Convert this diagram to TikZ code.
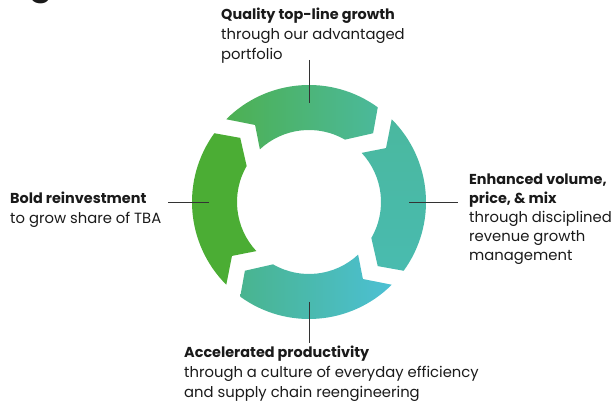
\documentclass[tikz,border=0pt]{standalone}
\usepackage{fontspec}
\setmainfont{Poppins}
\definecolor{gA}{HTML}{4BAD34}
\definecolor{gB}{HTML}{4DB052}
\definecolor{gC}{HTML}{4BB99B}
\definecolor{gD}{HTML}{4AB89F}
\definecolor{gE}{HTML}{49BBAF}
\definecolor{gF}{HTML}{49B48F}
\definecolor{gG}{HTML}{4CC0D4}
\definecolor{txt}{HTML}{1A1A1A}
\definecolor{ln}{HTML}{333333}
\begin{document}
\begin{tikzpicture}[x=1pt,y=1pt,
  head/.style={font=\fontsize{14.4}{16}\bfseries, text=txt, anchor=base west, inner sep=0pt},
  body/.style={font=\fontsize{14.8}{16}\selectfont, text=txt, anchor=base west, inner sep=0pt},
  leader/.style={draw=ln, line width=0.9pt}]
\useasboundingbox (0,0) rectangle (614,409);
\coordinate (C) at (309,207);
\def\Ro{117}\def\Rm{94}\def\Ri{72}
\newcommand\ringseg[1]{(135+#1:\Ro) arc[start angle=135+#1, end angle=54+#1, radius=\Ro] -- (47+#1:\Rm) -- (60+#1:\Ri) arc[start angle=60+#1, end angle=133+#1, radius=\Ri] -- (125+#1:\Rm) -- cycle}
\begin{scope}[shift={(C)}]
  \fill[gA] \ringseg{90};
  \shade[left color=gB, right color=gC] \ringseg{0};
  \shade[top color=gD, bottom color=gE] \ringseg{-90};
  \shade[left color=gF, right color=gG] \ringseg{-180};
\end{scope}
% partial title letter
\node[font=\fontsize{34}{36}\bfseries, text=txt, anchor=base west, inner sep=0pt] (title) at (29,414.5) {g};
% top
\node[head] (q1) at (221,389.5) {Quality top-line growth};
\node[body] (q2) at (221,369.5) {through our advantaged};
\node[body] (q3) at (221,349.5) {portfolio};
% left
\node[head] (b1) at (10,205.7) {Bold reinvestment};
\node[body] (b2) at (10,185) {to grow share of TBA};
% right
\node[head] (e1) at (469,224) {Enhanced volume,};
\node[head] (e2) at (469,205.5) {price, \& mix};
\node[body] (e3) at (469,186) {through disciplined};
\node[body] (e4) at (469,167) {revenue growth};
\node[body] (e5) at (469,148) {management};
% bottom
\node[head] (a1) at (184,51.7) {Accelerated productivity};
\node[body] (a2) at (184,31) {through a culture of everyday efficiency};
\node[body] (a3) at (184,11) {and supply chain reengineering};
% leaders
\coordinate (tA) at (309,349); \coordinate (tB) at (309,306);
\coordinate (lA) at (168,207); \coordinate (lB) at (209,207);
\coordinate (rA) at (409,207); \coordinate (rB) at (458,207);
\coordinate (dA) at (309,107); \coordinate (dB) at (309,66);
\draw[leader] (tA) -- (tB);
\draw[leader] (lA) -- (lB);
\draw[leader] (rA) -- (rB);
\draw[leader] (dA) -- (dB);
\end{tikzpicture}
\end{document}
